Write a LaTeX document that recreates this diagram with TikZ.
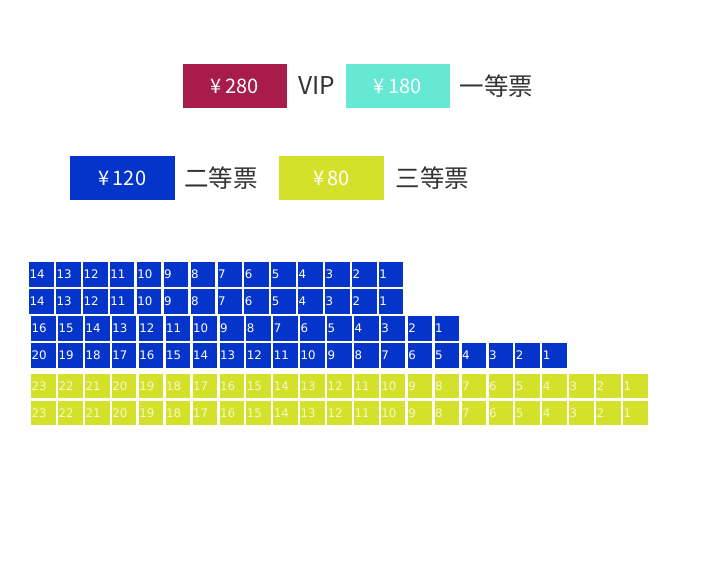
\documentclass[tikz,border=0pt]{standalone}
\usepackage{fontspec}
\setmainfont{Noto Sans CJK SC}
\newfontfamily\seatfont{DejaVu Sans}
\usepackage{tikz}
\usetikzlibrary{positioning}
\definecolor{vipc}{HTML}{A81C4B}
\definecolor{onec}{HTML}{66E9D4}
\definecolor{twoc}{HTML}{0434C9}
\definecolor{thrc}{HTML}{D4E12B}

\begin{document}
\begin{tikzpicture}[
        x=1pt, y=-1pt,
        pricebox/.style={rectangle, minimum width=104pt, minimum height=44pt,
                         inner sep=0pt, text=white,
                         font=\fontsize{20}{20}\selectfont},
        tier/.style={text=black!80, inner sep=0pt,
                     font=\fontsize{24.5}{24.5}\selectfont},
        seat/.style={rectangle, anchor=north west, minimum width=24.5pt,
                     minimum height=24.5pt, text width=23.5pt, align=left,
                     text height=8.6pt, text depth=0pt,
                     inner sep=0.5pt, font=\seatfont\fontsize{11.8}{12}\selectfont},
        bseat/.style={seat, fill=twoc, text=white},
        yseat/.style={seat, fill=thrc, text=white!75!thrc},
      ]
      \path[use as bounding box] (0,0) rectangle (706,569);

      % Price legend
      \node[pricebox, fill=vipc] (p280) at (234.5,86) {¥\,280};
      \node[tier] (vip) at (316.5,86) {VIP};
      \node[pricebox, fill=onec] (p180) at (397.5,86) {¥\,180};
      \node[tier] (first) at (496.5,86) {一等票};
      \node[pricebox, fill=twoc, minimum width=105pt] (p120) at (122.3,178.3) {¥\,120};
      \node[tier] (second) at (221,178) {二等票};
      \node[pricebox, fill=thrc, minimum width=105pt] (p80) at (331.5,178.3) {¥\,80};
      \node[tier] (third) at (432.5,178) {三等票};

      % Blue rows
      \foreach \r/\n/\xa/\ya in {1/14/29/262, 2/14/29/289, 3/16/31/316, 4/20/31/343}
        \foreach \k in {1,...,\n}
          \node[bseat] (b\r-\k) at ({\xa+(\n-\k)*26.9}, \ya) {\k};

      % Yellow rows
      \foreach \r/\ya in {1/373.5, 2/400.3}
        \foreach \k in {1,...,23}
          \node[yseat] (y\r-\k) at ({31+(23-\k)*26.9}, \ya) {\k};
      \end{tikzpicture}
\end{document}
